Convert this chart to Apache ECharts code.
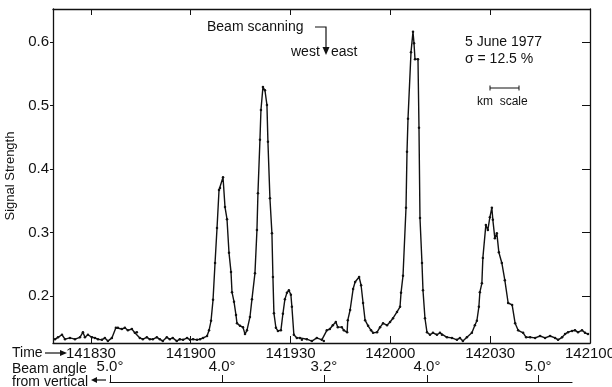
<!DOCTYPE html>
<html>
<head>
<meta charset="UTF-8">
<title>Signal strength, 5 June 1977</title>
<script src="https://cdn.jsdelivr.net/npm/echarts@6/dist/echarts.min.js"></script>
<style>
  html, body { margin: 0; padding: 0; background: #fff; }
  #main { width: 612px; height: 387px; }
</style>
</head>
<body>
<div id="main"></div>
<script>
// time in seconds after 14:18:00
var times = [19.2,20.1,21.3,22.2,23.7,25.2,26.7,27.6,28.2,29.1,30.3,31.2,32.1,33.3,34.2,35.1,36.3,37.5,38.1,39.3,
  40.2,41.1,42.3,43.2,43.8,44.7,45.6,46.8,47.7,48.6,49.8,50.7,51.6,52.8,53.7,54.6,55.8,56.7,57.7,58.9,
  59.8,60.7,61.9,62.8,63.7,64.9,65.5,66.1,66.7,67.3,67.9,68.5,68.8,69.7,70.3,70.9,71.5,72.1,72.4,73.0,
  73.6,73.9,74.8,75.7,76.3,76.9,77.8,78.4,79.3,79.9,80.2,80.8,81.1,81.7,82.3,82.9,83.2,83.8,84.4,84.7,
  85.0,85.6,86.2,87.1,87.7,88.3,88.9,89.5,90.1,90.4,91.0,91.9,92.8,93.4,94.9,96.4,97.9,99.4,100.0,100.9,
  101.8,102.7,103.6,104.2,105.4,106.0,107.0,107.2,107.9,108.8,109.4,110.6,111.2,111.8,112.4,113.3,114.2,114.8,116.0,116.9,
  117.8,119.0,119.9,120.8,122.0,122.9,123.2,123.8,124.7,125.0,125.3,126.2,126.8,127.1,127.4,128.3,128.6,128.9,129.5,129.8,
  130.4,131.0,131.9,132.8,134.0,134.9,135.5,137.0,138.5,140.0,140.9,141.8,143.0,144.5,145.4,146.0,146.6,146.9,147.5,147.8,
  148.7,149.3,149.9,150.5,150.8,151.4,152.0,152.6,153.5,154.4,155.4,156.6,157.5,158.4,159.9,160.8,162.0,163.5,165.0,166.5,
  168.0,169.5,170.4,171.6,172.5,173.4,174.6,175.5,176.4,177.6,178.5,179.4];

var signal = [0.132,0.135,0.139,0.132,0.134,0.132,0.135,0.143,0.135,0.139,0.135,0.134,0.132,0.131,0.134,0.129,0.134,0.150,0.150,0.148,
  0.150,0.146,0.148,0.142,0.143,0.134,0.132,0.135,0.132,0.132,0.135,0.132,0.129,0.135,0.132,0.134,0.129,0.132,0.131,0.134,
  0.131,0.132,0.131,0.132,0.134,0.137,0.146,0.161,0.194,0.252,0.307,0.367,0.370,0.387,0.340,0.321,0.268,0.238,0.206,0.191,
  0.170,0.157,0.153,0.151,0.140,0.146,0.167,0.195,0.236,0.304,0.362,0.446,0.493,0.529,0.524,0.501,0.443,0.354,0.299,0.230,
  0.173,0.150,0.145,0.146,0.172,0.195,0.205,0.209,0.202,0.183,0.139,0.134,0.134,0.131,0.132,0.129,0.134,0.131,0.129,0.146,
  0.148,0.154,0.159,0.151,0.151,0.146,0.143,0.162,0.178,0.211,0.222,0.230,0.217,0.189,0.162,0.153,0.146,0.142,0.143,0.151,
  0.157,0.154,0.159,0.165,0.175,0.183,0.205,0.232,0.339,0.427,0.479,0.584,0.616,0.598,0.573,0.573,0.465,0.323,0.252,0.209,
  0.165,0.143,0.139,0.142,0.139,0.142,0.139,0.135,0.134,0.131,0.134,0.129,0.135,0.142,0.154,0.161,0.183,0.206,0.220,0.260,
  0.312,0.304,0.324,0.339,0.320,0.291,0.299,0.269,0.252,0.225,0.189,0.186,0.157,0.146,0.142,0.135,0.135,0.134,0.137,0.134,
  0.137,0.134,0.131,0.135,0.140,0.143,0.145,0.146,0.143,0.146,0.142,0.140];

var timeTicks = [30, 60, 90, 120, 150, 180];
var timeLabels = ['141830', '141900', '141930', '142000', '142030', '142100'];
var signalTicks = [0.2, 0.3, 0.4, 0.5, 0.6];
var angleTicks = [35.7, 69.4, 100.0, 131.0, 164.4];
var angleLabels = ['5.0°', '4.0°', '3.2°', '4.0°', '5.0°'];

var INK = '#111';
var FONT = 'Liberation Sans';

var chart = echarts.init(document.getElementById('main'));

var points = times.map(function (t, i) { return [t, signal[i]]; });

function timeFmt(v) {
  var i = timeTicks.indexOf(v);
  return i >= 0 ? timeLabels[i] : '';
}
function angleFmt(v) {
  var i = angleTicks.indexOf(v);
  return i >= 0 ? angleLabels[i] : '';
}

var option = {
  animation: false,
  backgroundColor: '#fff',
  textStyle: { fontFamily: FONT, color: INK },
  grid: [
    { left: 53, right: 22, top: 9, bottom: 44, outerBoundsMode: 'none', containLabel: false },
    { left: 110, right: 40, top: 360, height: 22, outerBoundsMode: 'none', containLabel: false }
  ],
  xAxis: [
    {
      gridIndex: 0, type: 'value', min: 18.6, max: 180, position: 'bottom',
      axisLine: { lineStyle: { color: INK, width: 1.3 } },
      axisTick: { inside: true, length: 7, customValues: timeTicks, lineStyle: { color: INK } },
      axisLabel: { customValues: timeTicks, formatter: timeFmt, color: INK, fontSize: 15, margin: 3, fontFamily: FONT },
      splitLine: { show: false }
    },
    {
      gridIndex: 0, type: 'value', min: 18.6, max: 180, position: 'top',
      axisLine: { lineStyle: { color: INK, width: 1.3 } },
      axisTick: { inside: true, length: 6, customValues: timeTicks, lineStyle: { color: INK } },
      axisLabel: { show: false },
      splitLine: { show: false }
    },
    {
      gridIndex: 1, type: 'value', min: 35.7, max: 174.6, position: 'bottom',
      axisLine: { lineStyle: { color: INK, width: 1.2 } },
      axisTick: { inside: true, length: 7, customValues: angleTicks, lineStyle: { color: INK } },
      axisLabel: { inside: true, margin: 8, customValues: angleTicks, formatter: angleFmt, color: INK, fontSize: 15, fontFamily: FONT },
      splitLine: { show: false }
    }
  ],
  yAxis: [
    {
      gridIndex: 0, type: 'value', min: 0.126, max: 0.652, position: 'left',
      name: 'Signal Strength', nameLocation: 'middle', nameGap: 27,
      nameTextStyle: { fontSize: 13, color: INK, fontFamily: FONT },
      axisLine: { show: true, lineStyle: { color: INK, width: 1.3 } },
      axisTick: { show: true, length: 3, customValues: signalTicks, lineStyle: { color: INK } },
      axisLabel: { customValues: signalTicks, formatter: function (v) { return v.toFixed(1); },
        color: INK, fontSize: 15, margin: 4, fontFamily: FONT },
      splitLine: { show: false }
    },
    {
      gridIndex: 0, type: 'value', min: 0.126, max: 0.652, position: 'right',
      axisLine: { show: true, lineStyle: { color: INK, width: 1.3 } },
      axisTick: { show: true, inside: true, length: 8, customValues: signalTicks, lineStyle: { color: INK } },
      axisLabel: { show: false },
      splitLine: { show: false }
    },
    { gridIndex: 1, type: 'value', show: false, min: 0, max: 1 }
  ],
  series: [{
    type: 'line',
    xAxisIndex: 0, yAxisIndex: 0,
    data: points,
    showSymbol: true,
    symbol: 'circle',
    symbolSize: 2.5,
    itemStyle: { color: INK },
    lineStyle: { color: INK, width: 1.4 }
  }],
  graphic: [
    // top annotations
    { type: 'text', left: 207, top: 20, style: { text: 'Beam scanning', font: '14px ' + FONT, fill: INK } },
    { type: 'polyline', shape: { points: [[315, 27], [326, 27], [326, 50]] }, style: { stroke: INK, lineWidth: 1.2, fill: null } },
    { type: 'polygon', shape: { points: [[322.5, 47], [329.5, 47], [326, 55]] }, style: { fill: INK } },
    { type: 'text', left: 291, top: 45, style: { text: 'west', font: '14px ' + FONT, fill: INK } },
    { type: 'text', left: 331, top: 45, style: { text: 'east', font: '14px ' + FONT, fill: INK } },
    { type: 'text', left: 465, top: 35, style: { text: '5 June 1977', font: '14px ' + FONT, fill: INK } },
    { type: 'text', left: 465, top: 52, style: { text: 'σ = 12.5 %', font: '14px ' + FONT, fill: INK } },
    { type: 'line', shape: { x1: 490, y1: 88, x2: 519, y2: 88 }, style: { stroke: INK, lineWidth: 1 } },
    { type: 'line', shape: { x1: 490, y1: 85.5, x2: 490, y2: 90.5 }, style: { stroke: INK, lineWidth: 1 } },
    { type: 'line', shape: { x1: 519, y1: 85.5, x2: 519, y2: 90.5 }, style: { stroke: INK, lineWidth: 1 } },
    { type: 'text', left: 477, top: 96, style: { text: 'km  scale', font: '12px ' + FONT, fill: INK } },
    // bottom left labels
    { type: 'text', left: 12, top: 346, style: { text: 'Time', font: '14px ' + FONT, fill: INK } },
    { type: 'line', shape: { x1: 45, y1: 353, x2: 61, y2: 353 }, style: { stroke: INK, lineWidth: 1.2 } },
    { type: 'polygon', shape: { points: [[60, 350], [60, 356], [67, 353]] }, style: { fill: INK } },
    { type: 'text', left: 12, top: 362, style: { text: 'Beam angle', font: '14px ' + FONT, fill: INK } },
    { type: 'text', left: 12, top: 375, style: { text: 'from vertical', font: '14px ' + FONT, fill: INK } },
    { type: 'polygon', shape: { points: [[91, 380], [97, 377], [97, 383]] }, style: { fill: INK } },
    { type: 'line', shape: { x1: 96, y1: 380, x2: 106, y2: 380 }, style: { stroke: INK, lineWidth: 1.2 } }
  ]
};

chart.setOption(option);
</script>
</body>
</html>
